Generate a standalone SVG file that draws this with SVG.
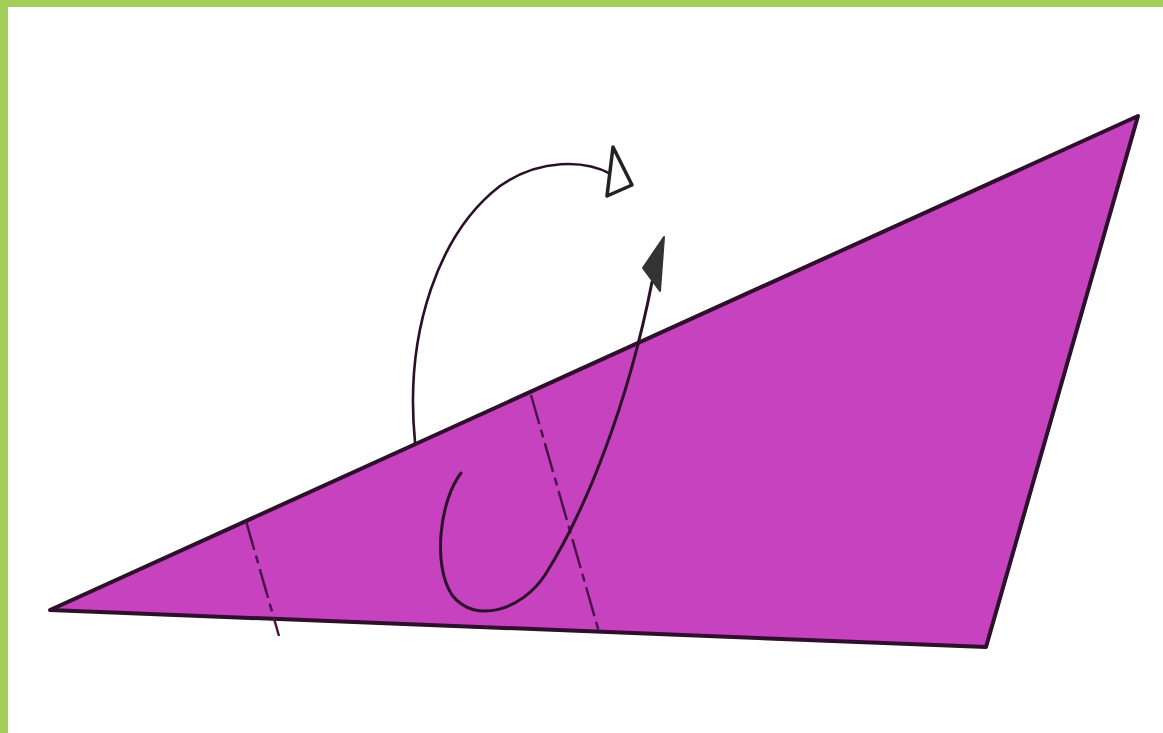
<svg xmlns="http://www.w3.org/2000/svg" width="1163" height="733" viewBox="0 0 1163 733">
<defs>
<style>
.edge{fill:none;stroke:#2a1028;stroke-linecap:round}
.fold{fill:none;stroke:#4a0f45;stroke-width:2.4;stroke-dasharray:30 6 8 6}
</style>
</defs>
<rect x="0" y="0" width="1163" height="733" fill="#ffffff"/>
<rect x="0" y="0" width="1163" height="7" fill="#a3cf59"/>
<rect x="0" y="0" width="8" height="733" fill="#a3cf59"/>
<g id="paper">
<polygon points="50,610 1138,116 986,647" fill="#c642bf" stroke="#2e0f2c" stroke-width="4" stroke-linejoin="round"/>
</g>
<g id="fold-lines">
<path class="fold" d="M246,521 L279,636"/>
<path class="fold" d="M531,395 L599,632"/>
</g>
<g id="connectors">
<path class="edge" stroke-width="2.6" d="M415,442 C404,330 440,232 500,186 C540,158 585,160 611,174"/>
<polygon points="613,147 632,185 607,196" fill="#fff" stroke="#222" stroke-width="3.5" stroke-linejoin="round"/>
<path class="edge" stroke="#3b0a36" stroke-width="3" d="M461,473 C440,500 432,565 452,595 C475,625 522,610 545,575 C585,512 628,405 652,282"/>
<polygon points="664,237 643,268 660,291" fill="#333" stroke="#333" stroke-width="2" stroke-linejoin="round"/>
</g>
</svg>
